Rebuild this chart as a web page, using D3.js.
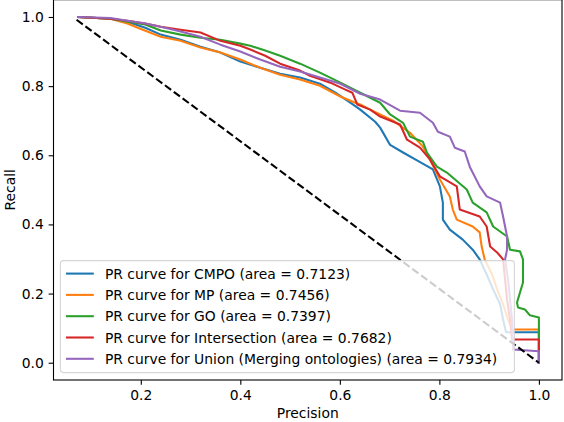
<!DOCTYPE html>
<html>
<head>
<meta charset="utf-8">
<script src="https://cdn.jsdelivr.net/npm/d3@7"></script>
<style>
  html, body { margin: 0; padding: 0; background: #fff; }
  svg { display: block; font-family: "DejaVu Sans", sans-serif; }
</style>
</head>
<body>
<svg id="chart" width="564" height="422"></svg>
<script>
// ---- Data (Precision on x, Recall on y) ----
const seriesNames = [
  "PR curve for CMPO (area = 0.7123)",
  "PR curve for MP (area = 0.7456)",
  "PR curve for GO (area = 0.7397)",
  "PR curve for Intersection (area = 0.7682)",
  "PR curve for Union (Merging ontologies) (area = 0.7934)"
];
const seriesColors = ["#1f77b4", "#ff7f0e", "#2ca02c", "#d62728", "#9467bd"];

const cmpoPrecision = [0.075,0.139,0.173,0.209,0.240,0.280,0.320,0.360,0.400,0.440,0.480,0.520,0.560,0.591,0.621,0.641,0.671,0.681,0.701,0.727,0.755,0.787,0.801,0.807,0.807,0.821,0.847,0.867,0.881,0.895,0.908,0.922,0.928,0.934,1.0,1.0];
const cmpoRecall    = [1.0,0.995,0.986,0.969,0.949,0.934,0.914,0.897,0.871,0.853,0.836,0.825,0.807,0.781,0.752,0.732,0.697,0.680,0.630,0.608,0.585,0.559,0.510,0.463,0.414,0.385,0.356,0.327,0.299,0.255,0.212,0.169,0.125,0.088,0.088,0.0];

const mpPrecision = [0.075,0.139,0.173,0.199,0.240,0.280,0.320,0.360,0.400,0.440,0.480,0.520,0.560,0.601,0.631,0.641,0.661,0.681,0.707,0.741,0.767,0.781,0.801,0.821,0.827,0.835,0.867,0.881,0.885,0.891,0.906,0.916,0.928,0.938,0.946,1.0,1.0];
const mpRecall    = [1.0,0.995,0.981,0.966,0.943,0.931,0.912,0.897,0.877,0.853,0.833,0.819,0.801,0.770,0.752,0.747,0.732,0.718,0.700,0.665,0.625,0.588,0.530,0.481,0.443,0.414,0.394,0.377,0.336,0.299,0.255,0.212,0.169,0.125,0.096,0.096,0.0];

const goPrecision = [0.075,0.139,0.173,0.209,0.240,0.280,0.320,0.360,0.400,0.420,0.450,0.480,0.520,0.560,0.601,0.641,0.681,0.701,0.727,0.741,0.767,0.775,0.795,0.815,0.855,0.867,0.895,0.908,0.936,0.942,0.962,0.968,0.968,0.962,0.956,0.958,0.972,0.982,1.0,1.0];
const goRecall    = [1.0,0.995,0.986,0.978,0.961,0.949,0.940,0.934,0.923,0.917,0.903,0.888,0.865,0.839,0.810,0.781,0.752,0.718,0.694,0.654,0.639,0.608,0.567,0.550,0.501,0.463,0.435,0.394,0.365,0.327,0.322,0.299,0.232,0.203,0.174,0.160,0.154,0.137,0.131,0.0];

const interPrecision = [0.075,0.139,0.173,0.209,0.240,0.280,0.320,0.360,0.400,0.420,0.450,0.480,0.520,0.540,0.581,0.611,0.625,0.635,0.661,0.681,0.721,0.735,0.761,0.781,0.801,0.835,0.841,0.881,0.895,0.902,0.916,0.928,0.932,0.936,0.942,0.946,1.0,1.0];
const interRecall    = [1.0,0.995,0.989,0.981,0.972,0.963,0.955,0.931,0.917,0.906,0.888,0.865,0.845,0.830,0.810,0.790,0.781,0.747,0.732,0.712,0.689,0.645,0.622,0.588,0.539,0.510,0.443,0.423,0.394,0.336,0.319,0.299,0.241,0.183,0.125,0.067,0.067,0.0];

const unionPrecision = [0.075,0.139,0.173,0.209,0.240,0.280,0.320,0.360,0.400,0.440,0.480,0.520,0.560,0.601,0.641,0.681,0.721,0.761,0.787,0.797,0.821,0.831,0.851,0.861,0.881,0.895,0.922,0.928,0.936,0.936,0.932,0.938,0.942,0.946,0.948,1.0,1.0];
const unionRecall    = [1.0,0.997,0.989,0.981,0.972,0.958,0.943,0.920,0.900,0.877,0.856,0.842,0.825,0.807,0.778,0.761,0.729,0.723,0.694,0.668,0.654,0.622,0.611,0.567,0.510,0.481,0.463,0.423,0.365,0.327,0.299,0.241,0.183,0.125,0.038,0.033,0.0];

const chancePrecision = [0.071, 1.0];
const chanceRecall = [0.992, 0.0];

const xTicks = [0.2, 0.4, 0.6, 0.8, 1.0];
const yTicks = [0.0, 0.2, 0.4, 0.6, 0.8, 1.0];
const xLimits = [0.0246, 1.0464];
const yLimits = [-0.05, 1.05];

const precisions = [cmpoPrecision, mpPrecision, goPrecision, interPrecision, unionPrecision];
const recalls = [cmpoRecall, mpRecall, goRecall, interRecall, unionRecall];

// ---- Layout ----
const svg = d3.select("#chart");
const L = 53.5, R = 562, T = -0.3, B = 380;
const FS = 13.89;

const x = d3.scaleLinear().domain(xLimits).range([L, R]);
const y = d3.scaleLinear().domain(yLimits).range([B, T]);

const line = d3.line().x(d => x(d[0])).y(d => y(d[1]));

const plot = svg.append("g");

// curves
precisions.forEach((p, i) => {
  const pts = p.map((v, j) => [v, recalls[i][j]]);
  plot.append("path")
    .attr("d", line(pts))
    .attr("fill", "none")
    .attr("stroke", seriesColors[i])
    .attr("stroke-width", 2.08)
    .attr("stroke-linejoin", "round")
    .attr("stroke-linecap", "square");
});

// chance line
plot.append("path")
  .attr("d", line(chancePrecision.map((v, j) => [v, chanceRecall[j]])))
  .attr("fill", "none")
  .attr("stroke", "#000")
  .attr("stroke-width", 2.08)
  .attr("stroke-dasharray", "7.7,3.3");

// axes
const xAxis = d3.axisBottom(x).tickValues(xTicks).tickFormat(d3.format(".1f")).tickSize(4.86).tickPadding(4.86);
const yAxis = d3.axisLeft(y).tickValues(yTicks).tickFormat(d3.format(".1f")).tickSize(4.86).tickPadding(4.86);

const gx = svg.append("g").attr("transform", `translate(0,${B})`).call(xAxis);
const gy = svg.append("g").attr("transform", `translate(${L},0)`).call(yAxis);
[gx, gy].forEach(g => {
  g.select(".domain").remove();
  g.selectAll(".tick line").attr("stroke", "#000").attr("stroke-width", 1.1);
  g.selectAll(".tick text").attr("fill", "#000").style("font-size", FS + "px").style("font-family", "DejaVu Sans");
});

// spines
svg.append("rect")
  .attr("x", L).attr("y", T).attr("width", R - L).attr("height", B - T)
  .attr("fill", "none").attr("stroke", "#000").attr("stroke-width", 1.1);

// axis labels
svg.append("text")
  .attr("x", (L + R) / 2).attr("y", 418)
  .attr("text-anchor", "middle")
  .style("font-size", FS + "px").attr("fill", "#000")
  .text("Precision");
svg.append("text")
  .attr("transform", `translate(14.5,${(T + B) / 2}) rotate(-90)`)
  .attr("text-anchor", "middle")
  .style("font-size", FS + "px").attr("fill", "#000")
  .text("Recall");

// legend
const legX = 60.4, legW = 454, legBottom = 372.6;
const rowH = 21.3;
const legH = seriesNames.length * rowH + 5.5;
const legY = legBottom - legH;
const leg = svg.append("g");
leg.append("rect")
  .attr("x", legX).attr("y", legY).attr("width", legW).attr("height", legH)
  .attr("rx", 3).attr("ry", 3)
  .attr("fill", "#fff").attr("fill-opacity", 0.8)
  .attr("stroke", "#ccc").attr("stroke-opacity", 0.8).attr("stroke-width", 1.1);
seriesNames.forEach((name, i) => {
  const cy = legY + 13 + i * rowH;
  leg.append("line")
    .attr("x1", legX + 5.6).attr("x2", legX + 5.6 + 27.8)
    .attr("y1", cy).attr("y2", cy)
    .attr("stroke", seriesColors[i]).attr("stroke-width", 2.08);
  leg.append("text")
    .attr("x", legX + 5.6 + 27.8 + 11.1).attr("y", cy)
    .attr("dy", "0.36em")
    .style("font-size", FS + "px").attr("fill", "#000")
    .text(name);
});
</script>
</body>
</html>
